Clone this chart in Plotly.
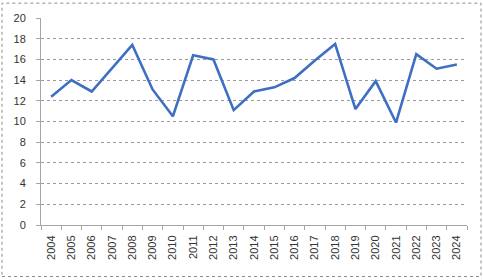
import plotly.graph_objects as go

years = [str(y) for y in range(2004, 2025)]
values = [12.4, 14.0, 12.9, 15.2, 17.4, 13.1, 10.5, 16.4, 16.0, 11.1, 12.9,
          13.3, 14.2, 15.9, 17.5, 11.2, 13.9, 9.9, 16.5, 15.1, 15.5]
y_ticks = list(range(0, 21, 2))

W, H = 483, 280
L, R, T, B = 41, 16, 16, 55
pw, ph = W - L - R, H - T - B

fig = go.Figure()
fig.add_trace(go.Scatter(x=years, y=values, mode="lines",
                         line=dict(color="#3F6FC2", width=2.6),
                         hoverinfo="skip"))

fig.update_layout(
    width=W, height=H,
    margin=dict(l=L, r=R, t=T, b=B, pad=0),
    paper_bgcolor="white", plot_bgcolor="white",
    showlegend=False,
    font=dict(family="Liberation Sans, Arial, sans-serif", size=11, color="#333333"),
    xaxis=dict(type="category", tickson="boundaries", tickangle=-90,
               range=[-0.5, len(years) - 0.5],
               showgrid=False, showline=True, linecolor="#a6a6a6", linewidth=1,
               ticks="outside", ticklen=4, tickcolor="#a6a6a6",
               ticklabelstandoff=5, fixedrange=True),
    yaxis=dict(range=[0, 20], tickvals=y_ticks, ticktext=[str(v) for v in y_ticks],
               showgrid=True, gridcolor="#9a9a9a", griddash="dot", gridwidth=1,
               zeroline=False, showline=True, linecolor="#a6a6a6", linewidth=1,
               ticks="outside", ticklen=4, tickcolor="#a6a6a6",
               ticklabelstandoff=8, fixedrange=True),
)

# dashed outer border of the chart area
x0 = (2 - L) / pw
x1 = (W - 2 - L) / pw
y0 = ((H - B) - (H - 3)) / ph
y1 = ((H - B) - 1) / ph
fig.add_shape(type="rect", xref="paper", yref="paper",
              x0=x0, x1=x1, y0=y0, y1=y1,
              line=dict(color="#8c8c8c", width=1, dash="dot"), layer="below")

fig.write_html("out.html")
